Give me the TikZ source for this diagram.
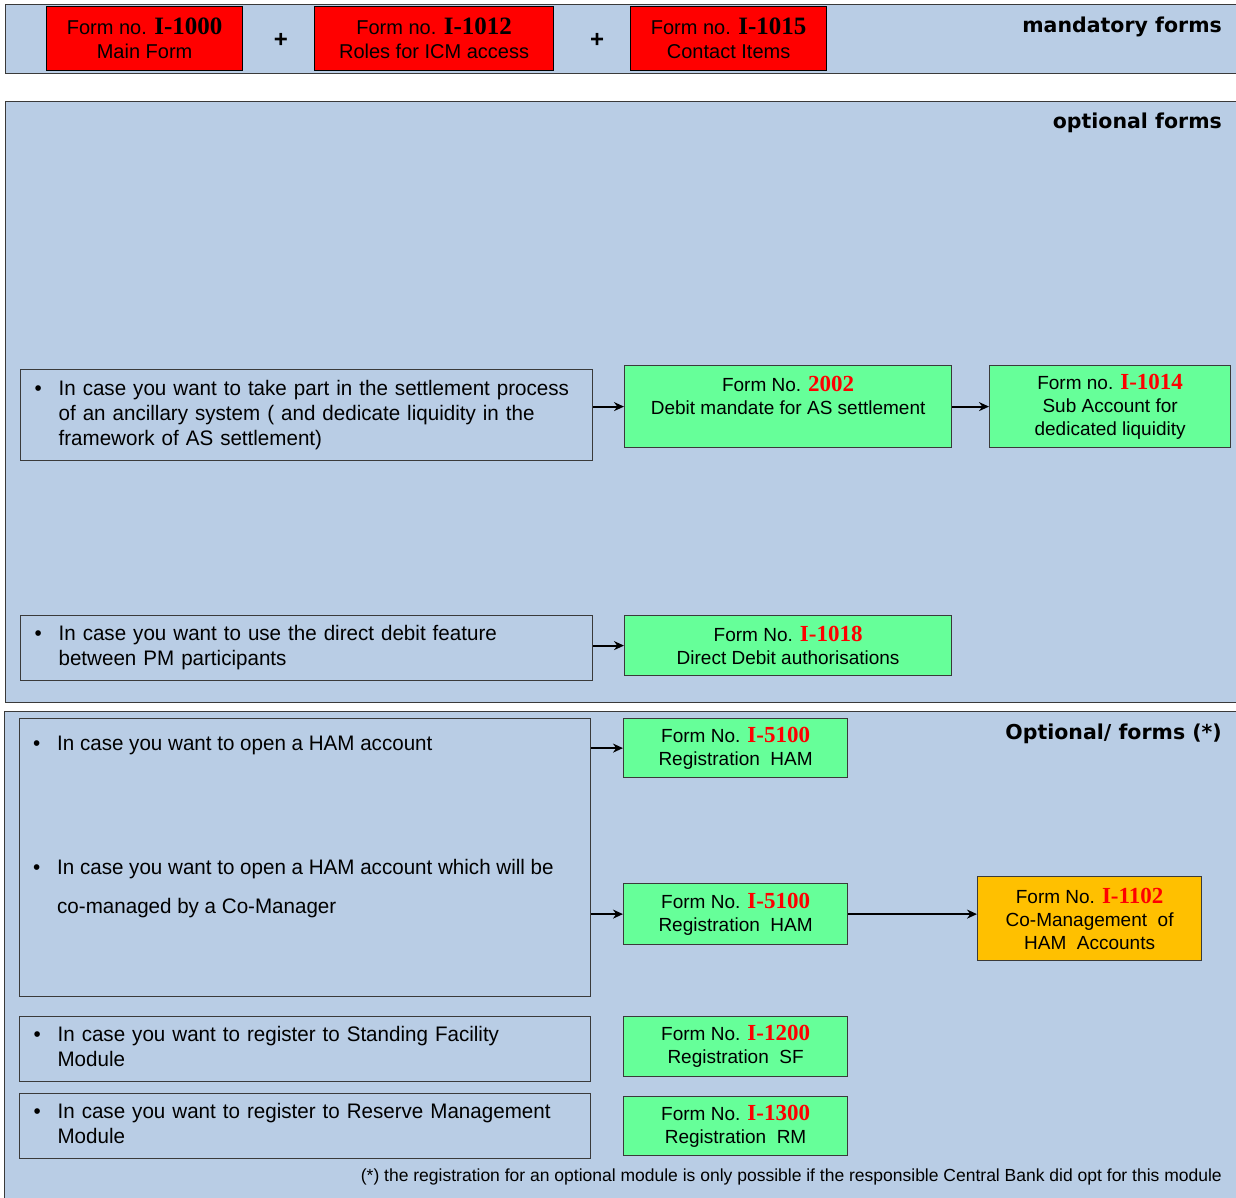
\documentclass[tikz,border=0pt]{standalone}
\usepackage{fontspec}
\setmainfont{Liberation Sans}
\newfontfamily\narrowfont{Liberation Sans}[FakeStretch=0.98]
\newfontfamily\numfont{Liberation Serif}
\newfontfamily\headfont{DejaVu Sans}
\usetikzlibrary{arrows.meta}
\definecolor{bandblue}{HTML}{B9CDE5}
\definecolor{formred}{HTML}{FF0000}
\definecolor{formgreen}{HTML}{66FF99}
\definecolor{formorange}{HTML}{FFC000}
\definecolor{edgegray}{HTML}{3A3A3A}
\newcommand{\num}[1]{{\numfont\bfseries\fontsize{25}{24}\selectfont #1}}
\newcommand{\rednum}[1]{{\color{formred}\numfont\bfseries\fontsize{23}{23}\selectfont #1}}
\newcommand{\caseitem}[1]{\begin{tabular}{@{\hspace{14pt}}p{24pt}@{}l@{}}
  \textbullet & \begin{tabular}[t]{@{}l@{}}#1\end{tabular}\end{tabular}}
\tikzstyle{band} = [draw=edgegray, line width=1pt, fill=bandblue]
\tikzstyle{redform} = [rectangle, draw=black, line width=1.2pt, fill=formred,
                       anchor=north west, align=center, inner sep=0pt,
                       font=\fontsize{20}{24}\selectfont]
\tikzstyle{greenform} = [rectangle, draw=edgegray, line width=1.2pt, fill=formgreen,
                         anchor=north west, align=center, inner sep=0pt,
                         font=\fontsize{19}{23}\selectfont]
\tikzstyle{orangeform} = [greenform, fill=formorange]
\tikzstyle{casebox} = [rectangle, draw=edgegray, line width=1.2pt, anchor=north west,
                       align=left, inner xsep=0pt, inner ysep=0pt,
                       font=\narrowfont\fontsize{21}{25}\selectfont]
\tikzstyle{casetext} = [anchor=west, inner sep=0pt, align=left,
                        font=\narrowfont\fontsize{21}{25}\selectfont]
\tikzstyle{heading} = [anchor=east, inner sep=0pt, font=\headfont\bfseries\fontsize{20.5}{23}\selectfont]
\tikzstyle{arrow} = [line width=2.2pt, -{Stealth[length=10pt,width=9pt]}]

\begin{document}
\begin{tikzpicture}[x=1pt, y=-1pt]
 \useasboundingbox (0,0) rectangle (1236,1197);
 % background bands
 \draw [band] (5,4) rectangle (1240,73);
 \draw [band] (5,101) rectangle (1240,702);
 \draw [band] (4,711) rectangle (1240,1200);
 \node (mand) [heading] at (1222,27) {mandatory forms};
 \node (opt) [heading] at (1222,123) {optional forms};
 \node (optmod) [heading] at (1222,734) {Optional/ forms (*)};
 % mandatory forms
 \node (main) [redform, minimum width=196pt, minimum height=64pt] at (46,6)
            {Form no. \num{I-1000}\\Main Form};
 \node (plusa) [font=\bfseries\fontsize{24}{24}\selectfont] at (281,40) {+};
 \node (roles) [redform, minimum width=239pt, minimum height=64pt] at (314,6)
            {Form no. \num{I-1012}\\Roles for ICM access};
 \node (plusb) [font=\bfseries\fontsize{24}{24}\selectfont] at (597,40) {+};
 \node (contact) [redform, minimum width=196pt, minimum height=64pt] at (630,6)
            {Form no. \num{I-1015}\\Contact Items};
 % optional forms
 \node (as) [casebox, text width=572pt, minimum height=91pt] at (20,369)
            {\caseitem{In case you want to take part in the settlement process\\
             of an ancillary system ( and dedicate liquidity in the\\
             framework of AS settlement)}};
 \node (dm) [greenform, minimum width=327pt, minimum height=82pt] at (624,365)
            {Form No. \rednum{2002}\\Debit mandate for AS settlement\\\mbox{}};
 \node (sub) [greenform, minimum width=241pt, minimum height=82pt] at (989,365)
            {Form no. \rednum{I-1014}\\Sub Account for\\dedicated liquidity};
 \node (dd) [casebox, text width=572pt, minimum height=65pt] at (20,615)
            {\caseitem{In case you want to use the direct debit feature\\
             between PM participants}};
 \node (ddform) [greenform, minimum width=327pt, minimum height=60pt] at (624,615)
            {Form No. \rednum{I-1018}\\Direct Debit authorisations};
 % optional modules
 \node (ham) [casebox, minimum width=571pt, minimum height=278pt] at (19,718) {};
 \node (hamtxt) [casetext] at (19,745) {\caseitem{In case you want to open a HAM account}};
 \node (cotxt) [casetext, anchor=north west] at (19,857)
            {\caseitem{In case you want to open a HAM account which will be\\[14pt]
             co-managed by a Co-Manager}};
 \node (hamone) [greenform, minimum width=224pt, minimum height=59pt] at (623,718)
            {Form No. \rednum{I-5100}\\Registration~ HAM};
 \node (hamtwo) [greenform, minimum width=224pt, minimum height=61pt] at (623,883)
            {Form No. \rednum{I-5100}\\Registration~ HAM};
 \node (coman) [orangeform, minimum width=224pt, minimum height=84pt] at (977,876)
            {Form No. \rednum{I-1102}\\Co-Management~ of\\HAM~ Accounts};
 \node (sf) [casebox, text width=571pt, minimum height=65pt] at (19,1016)
            {\caseitem{In case you want to register to Standing Facility\\Module}};
 \node (sfform) [greenform, minimum width=224pt, minimum height=60pt] at (623,1016)
            {Form No. \rednum{I-1200}\\Registration~ SF};
 \node (rm) [casebox, text width=571pt, minimum height=65pt] at (19,1093)
            {\caseitem{In case you want to register to Reserve Management\\Module}};
 \node (rmform) [greenform, minimum width=224pt, minimum height=59pt] at (623,1096)
            {Form No. \rednum{I-1300}\\Registration~ RM};
 \node (note) [anchor=east, inner sep=0pt, font=\fontsize{17.5}{20}\selectfont]
            at (1222,1177) {(*) the registration for an optional module is only possible
            if the responsible Central Bank did opt for this module};
 % connectors
 \draw [arrow] (as.east |- dm.west) -- (dm.west);
 \draw [arrow] (dm.east) -- (sub.west);
 \draw [arrow] (dd.east |- ddform.west) -- (ddform.west);
 \draw [arrow] (ham.east |- hamone.west) -- (hamone.west);
 \draw [arrow] (ham.east |- hamtwo.west) -- (hamtwo.west);
 \draw [arrow] (hamtwo.east) -- (hamtwo.east -| coman.west);
\end{tikzpicture}
\end{document}
